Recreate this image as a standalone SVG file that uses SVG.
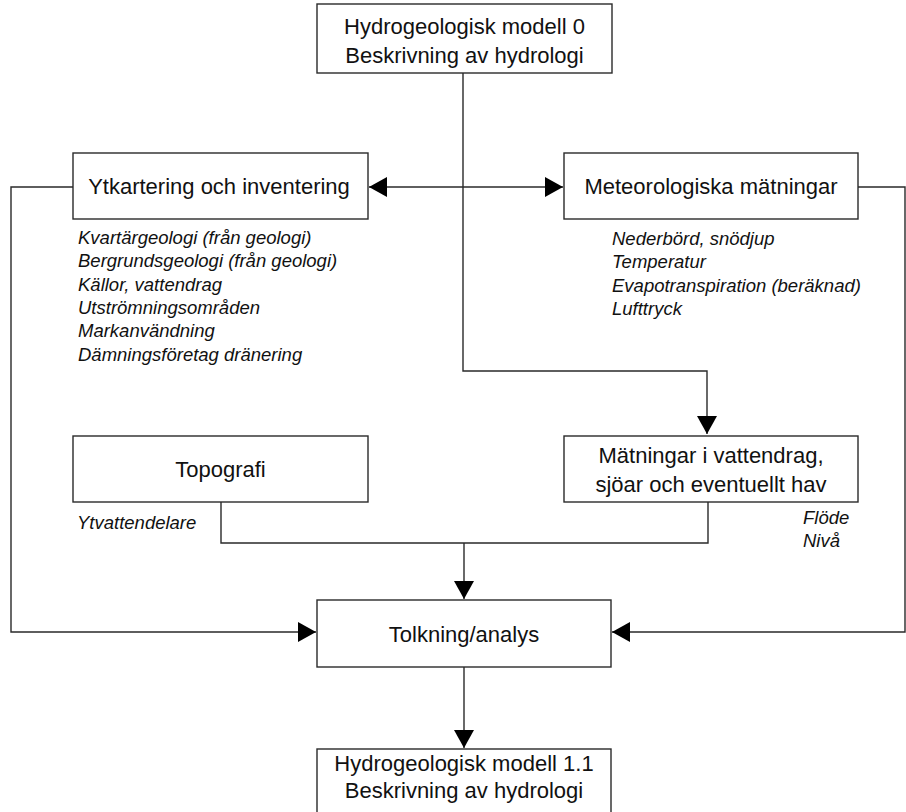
<svg xmlns="http://www.w3.org/2000/svg" width="906" height="812" viewBox="0 0 906 812">
  <style>
    .box { fill: #ffffff; stroke: #2a2a2a; stroke-width: 1.4; }
    .wire { fill: none; stroke: #2a2a2a; stroke-width: 1.4; }
    .title { font-family: "Liberation Sans", Arial, sans-serif; font-size: 22px; fill: #111; text-anchor: middle; }
    .note { font-family: "Liberation Sans", Arial, sans-serif; font-size: 18.5px; font-style: italic; fill: #111; }
  </style>
  <defs>
    <marker id="arrow" markerUnits="userSpaceOnUse" markerWidth="19" markerHeight="20" refX="18" refY="10" orient="auto">
      <path d="M0,0 L18,10 L0,20 z" fill="#000"/>
    </marker>
  </defs>

  <rect width="906" height="812" fill="#ffffff"/>

  <!-- connectors -->
  <g id="connectors">
    <!-- model 0 down to water measurements -->
    <path class="wire" d="M463,73 V371 H707 V434" marker-end="url(#arrow)"/>
    <!-- double-headed link between survey and meteorology -->
    <path class="wire" d="M463,187 H369" marker-end="url(#arrow)"/>
    <path class="wire" d="M463,187 H563" marker-end="url(#arrow)"/>
    <!-- survey to interpretation -->
    <path class="wire" d="M73,187 H11 V632 H316" marker-end="url(#arrow)"/>
    <!-- meteorology to interpretation -->
    <path class="wire" d="M858,187 H905 V632 H612" marker-end="url(#arrow)"/>
    <!-- topography and water measurements merge -->
    <path class="wire" d="M221,502 V543 H708 V502"/>
    <path class="wire" d="M464,543 V599" marker-end="url(#arrow)"/>
    <!-- interpretation to model 1.1 -->
    <path class="wire" d="M464,667 V748" marker-end="url(#arrow)"/>
  </g>

  <g id="model0">
    <rect class="box" x="317" y="4" width="295" height="69"/>
    <text class="title" x="464.5" y="34">Hydrogeologisk modell 0</text>
    <text class="title" x="464.5" y="63">Beskrivning av hydrologi</text>
  </g>

  <g id="ytkartering">
    <rect class="box" x="73" y="153" width="295" height="66"/>
    <text class="title" x="219" y="194">Ytkartering och inventering</text>
    <text class="note" x="78" y="244">Kvartärgeologi (från geologi)</text>
    <text class="note" x="78" y="267.3">Bergrundsgeologi (från geologi)</text>
    <text class="note" x="78" y="290.6">Källor, vattendrag</text>
    <text class="note" x="78" y="314">Utströmningsområden</text>
    <text class="note" x="78" y="337.3">Markanvändning</text>
    <text class="note" x="78" y="360.6">Dämningsföretag dränering</text>
  </g>

  <g id="meteorologi">
    <rect class="box" x="564" y="153" width="294" height="66"/>
    <text class="title" x="711" y="194">Meteorologiska mätningar</text>
    <text class="note" x="612" y="245">Nederbörd, snödjup</text>
    <text class="note" x="612" y="268.3">Temperatur</text>
    <text class="note" x="612" y="291.6">Evapotranspiration (beräknad)</text>
    <text class="note" x="612" y="315">Lufttryck</text>
  </g>

  <g id="topografi">
    <rect class="box" x="73" y="436" width="295" height="66"/>
    <text class="title" x="220.5" y="477">Topografi</text>
    <text class="note" x="77" y="528.5">Ytvattendelare</text>
  </g>

  <g id="vattenmatningar">
    <rect class="box" x="564" y="436" width="294" height="66"/>
    <text class="title" x="711" y="463">Mätningar i vattendrag,</text>
    <text class="title" x="711" y="492">sjöar och eventuellt hav</text>
    <text class="note" x="803" y="524.3">Flöde</text>
    <text class="note" x="803" y="547">Nivå</text>
  </g>

  <g id="tolkning">
    <rect class="box" x="317" y="600" width="294" height="67"/>
    <text class="title" x="464" y="642">Tolkning/analys</text>
  </g>

  <g id="model11">
    <rect class="box" x="317" y="749" width="294" height="68"/>
    <text class="title" x="464" y="771">Hydrogeologisk modell 1.1</text>
    <text class="title" x="464" y="798">Beskrivning av hydrologi</text>
  </g>
</svg>
